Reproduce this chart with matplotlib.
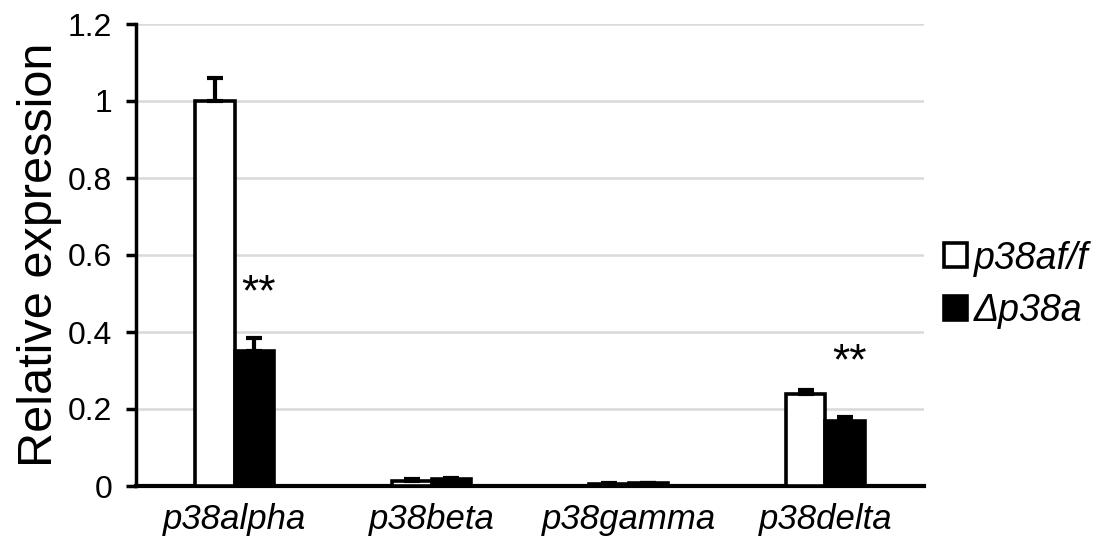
import matplotlib
matplotlib.use("Agg")
import matplotlib.pyplot as plt
import numpy as np

plt.rcParams['font.family'] = ['Liberation Sans', 'DejaVu Sans']

genes = ["p38alpha", "p38beta", "p38gamma", "p38delta"]
flox_vals = [1.0, 0.012, 0.005, 0.24]
flox_err = [0.06, 0.005, 0.002, 0.01]
ko_vals = [0.35, 0.017, 0.007, 0.17]
ko_err = [0.035, 0.004, 0.002, 0.01]
stars = ["**", "", "", "**"]
star_y = [0.50, None, None, 0.32]
yticks = [0, 0.2, 0.4, 0.6, 0.8, 1, 1.2]
ytick_labels = ["0", "0.2", "0.4", "0.6", "0.8", "1", "1.2"]
legend_labels = ["p38af/f", "\u0394p38a"]

fig = plt.figure(figsize=(11.02, 5.53), dpi=100)
ax = fig.add_axes([136/1102, 1-486/553, (924-136)/1102, (486-24)/553])

x = np.arange(len(genes))
w = 0.2
lw = 2.6
ax.bar(x - w/2, flox_vals, w, color="white", edgecolor="black", linewidth=lw,
       label=legend_labels[0], zorder=3)
ax.bar(x + w/2, ko_vals, w, color="black", edgecolor="black", linewidth=lw,
       label=legend_labels[1], zorder=3)
ax.errorbar(x - w/2, flox_vals, yerr=[np.zeros(4), flox_err], fmt="none",
            ecolor="black", elinewidth=3, capsize=6, capthick=3, zorder=4)
ax.errorbar(x + w/2, ko_vals, yerr=[np.zeros(4), ko_err], fmt="none",
            ecolor="black", elinewidth=3, capsize=6, capthick=3, zorder=4)

for i, s in enumerate(stars):
    if s:
        ax.text(x[i] + w/2 + 0.02, star_y[i], s, ha="center", va="center",
                fontsize=32)

ax.set_xlim(-0.5, 3.5)
ax.set_ylim(0, 1.2)
ax.set_yticks(yticks)
ax.set_yticklabels(ytick_labels, fontsize=23)
ax.set_xticks(x)
ax.set_xticklabels(genes, fontsize=25, style="italic")
ax.tick_params(axis="x", length=0, pad=12)
ax.tick_params(axis="y", length=7, width=2.5, pad=10)
ax.yaxis.grid(True, color="#d9d9d9", linewidth=1.8, zorder=0)
ax.set_axisbelow(True)
for side in ["top", "right"]:
    ax.spines[side].set_visible(False)
ax.spines["left"].set_linewidth(2.5)
ax.spines["bottom"].set_linewidth(3)
ax.set_ylabel("Relative expression", fontsize=35, labelpad=4)

fig.legend(loc="center left", bbox_to_anchor=(944/1102, 1-285/553), frameon=False,
           prop={"size": 27, "style": "italic"}, handlelength=0.6, handleheight=0.6,
           handletextpad=0.2, labelspacing=0.45, borderaxespad=0, borderpad=0)

fig.savefig("out.png", dpi=100)
